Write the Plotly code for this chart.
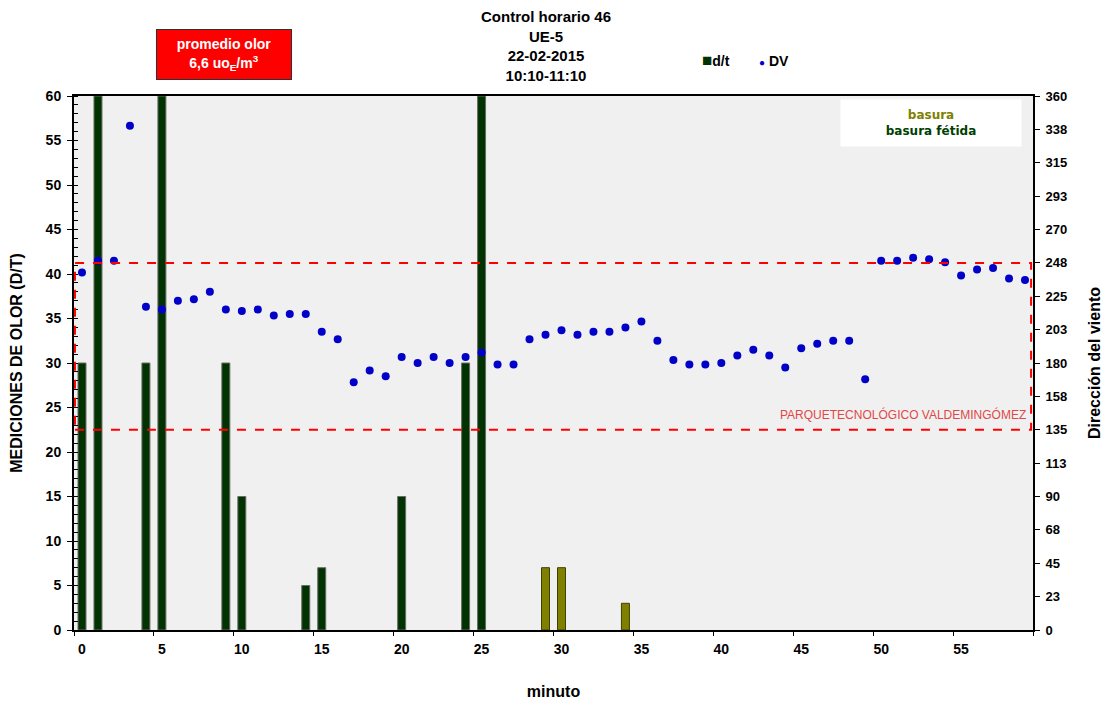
import plotly.graph_objects as go

# ---------------- data ----------------
minutes = list(range(60))

dt_minutes = [0, 1, 4, 5, 9, 10, 14, 15, 20, 24, 25]
dt_values = [30, 60, 30, 60, 30, 15, 5, 7, 15, 30, 60]

basura_minutes = [29, 30, 34]
basura_values = [7, 7, 3]

dv_values = [241, 249, 249, 340, 218, 216, 222, 223, 228, 216,
             215, 216, 212, 213, 213, 201, 196, 167, 175, 171,
             184, 180, 184, 180, 184, 187, 179, 179, 196, 199,
             202, 199, 201, 201, 204, 208, 195, 182, 179, 179,
             180, 185, 189, 185, 177, 190, 193, 195, 195, 169,
             249, 249, 251, 250, 248, 239, 243, 244, 237, 236]

x_tick_vals = list(range(0, 60, 5))
x_tick_text = [str(v) for v in x_tick_vals]
x_tick_marks = [v - 0.5 for v in range(0, 61, 5)]

y_tick_vals = list(range(0, 61, 5))
y2_tick_vals = [i * 22.5 for i in range(17)]
y2_tick_text = ["0", "23", "45", "68", "90", "113", "135", "158", "180",
                "203", "225", "248", "270", "293", "315", "338", "360"]

sector_low, sector_high = 135, 247.5

DARK_GREEN = "#003300"
OLIVE = "#808000"
BLUE = "#0000c8"
FONT = "Liberation Sans, Arial, sans-serif"
BOLD = dict(family=FONT, color="black", weight="bold")

# page body has an 8px margin; plot area target: x 74..1033, y 96..630
PAD = 8

fig = go.Figure()

fig.add_trace(go.Bar(
    x=dt_minutes, y=dt_values, name="d/t", width=0.5, showlegend=False,
    marker=dict(color=DARK_GREEN, line=dict(color="#6a6a6a", width=1)),
    xaxis="x", yaxis="y"))
fig.add_trace(go.Bar(
    x=basura_minutes, y=basura_values, name="basura", width=0.5, showlegend=False,
    marker=dict(color=OLIVE, line=dict(color="#404000", width=1)),
    xaxis="x", yaxis="y"))
fig.add_trace(go.Scatter(
    x=minutes, y=dv_values, name="DV", mode="markers", showlegend=False,
    marker=dict(color=BLUE, size=8, line=dict(width=0)),
    xaxis="x", yaxis="y2"))
# helper trace for the tick-mark axis
fig.add_trace(go.Scatter(x=[None], y=[None], xaxis="x2", yaxis="y",
                         showlegend=False, hoverinfo="skip"))

fig.update_layout(
    width=1111, height=707,
    margin=dict(l=74 - PAD, r=78 + PAD, t=96 - PAD, b=77 + PAD),
    paper_bgcolor="white", plot_bgcolor="#f0f0f0",
    barmode="overlay",
    showlegend=False,
    font=dict(family=FONT, color="black"),
    xaxis=dict(range=[-0.5, 59.5], tickmode="array", tickvals=x_tick_vals,
               ticktext=x_tick_text, ticks="", showgrid=False, zeroline=False,
               showline=True, linecolor="black", linewidth=2, mirror=True,
               automargin=False, ticklabelstandoff=5,
               tickfont=dict(size=14, **BOLD),
               title=dict(text="minuto", font=dict(size=16, **BOLD),
                          standoff=30)),
    xaxis2=dict(range=[-0.5, 59.5], overlaying="x", anchor="y", side="bottom",
                tickmode="array", tickvals=x_tick_marks, showticklabels=False,
                ticks="outside", ticklen=5, tickcolor="black", showgrid=False,
                zeroline=False, showline=False, automargin=False),
    yaxis=dict(range=[0, 60], tickmode="array", tickvals=y_tick_vals,
               ticks="outside", ticklen=5, tickcolor="black",
               minor=dict(dtick=1, ticks="inside", ticklen=4, tickcolor="black"),
               showgrid=False, zeroline=False, automargin=False,
               showline=True, linecolor="black", linewidth=2, mirror=True,
               ticklabelstandoff=3,
               tickfont=dict(size=14, **BOLD),
               title=dict(text="MEDICIONES DE OLOR (D/T)",
                          font=dict(size=16, **BOLD), standoff=20)),
    yaxis2=dict(range=[0, 360], overlaying="y", anchor="x", side="right",
                tickmode="array", tickvals=y2_tick_vals, ticktext=y2_tick_text,
                ticks="outside", ticklen=5, tickcolor="black",
                showgrid=False, zeroline=False, automargin=False,
                showline=True, linecolor="black", linewidth=2,
                ticklabelstandoff=3,
                tickfont=dict(size=13, **BOLD),
                title=dict(text="Dirección del viento",
                           font=dict(size=16, **BOLD), standoff=22)),
)

# title as annotation
fig.add_annotation(xref="paper", yref="paper", x=0.4922, y=1.0 + (96 - 6) / 534,
                   xanchor="center", yanchor="top", showarrow=False,
                   text="Control horario 46<br>UE-5<br>22-02-2015<br>10:10-11:10",
                   font=dict(size=15, **BOLD))

# manual legend
fig.add_annotation(xref="paper", yref="paper", x=(700 - 74) / 959, y=1.0 + (96 - 61) / 534,
                   xanchor="left", yanchor="middle", showarrow=False,
                   text=f"<span style='color:{DARK_GREEN};font-size:17px'>■</span>d/t",
                   font=dict(size=14, **BOLD))
fig.add_annotation(xref="paper", yref="paper", x=(757 - 74) / 959, y=1.0 + (96 - 61) / 534,
                   xanchor="left", yanchor="middle", showarrow=False,
                   text=f"<span style='color:{BLUE};font-size:10px'>●</span> DV",
                   font=dict(size=14, **BOLD))

# wind-sector dashed rectangle
fig.add_shape(type="rect", xref="paper", yref="y2", x0=0.001, x1=0.998,
              y0=sector_low, y1=sector_high,
              line=dict(color="#ff0000", width=2, dash="dash"),
              fillcolor="rgba(0,0,0,0)", layer="above")

fig.add_annotation(xref="paper", yref="y2", x=0.995, y=sector_low + 4,
                   xanchor="right", yanchor="bottom", showarrow=False,
                   text="PARQUETECNOLÓGICO VALDEMINGÓMEZ",
                   font=dict(size=12, color="#e04848", family=FONT))

# average odour box
fig.add_annotation(xref="paper", yref="paper", x=(224 - 74) / 959, y=1.0 + (96 - 54.5) / 534,
                   xanchor="center", yanchor="middle", showarrow=False,
                   text="promedio olor<br>6,6 uo<sub>E</sub>/m<sup>3</sup>",
                   font=dict(size=14, family=FONT, color="white", weight="bold"),
                   bgcolor="#ff0000", bordercolor="#303030", borderwidth=1,
                   width=132, height=47, borderpad=1)

# odour type box
fig.add_annotation(xref="paper", yref="paper", x=(931 - 74) / 959, y=1 - (123 - 96) / 534,
                   xanchor="center", yanchor="middle", showarrow=False,
                   text=f"<span style='color:{OLIVE}'>basura</span><br>"
                        f"<span style='color:#004000'>basura fétida</span>",
                   font=dict(size=12, family="DejaVu Sans, sans-serif", weight="bold"),
                   bgcolor="white", width=176, height=42, borderpad=2)

fig.write_html("out.html")
